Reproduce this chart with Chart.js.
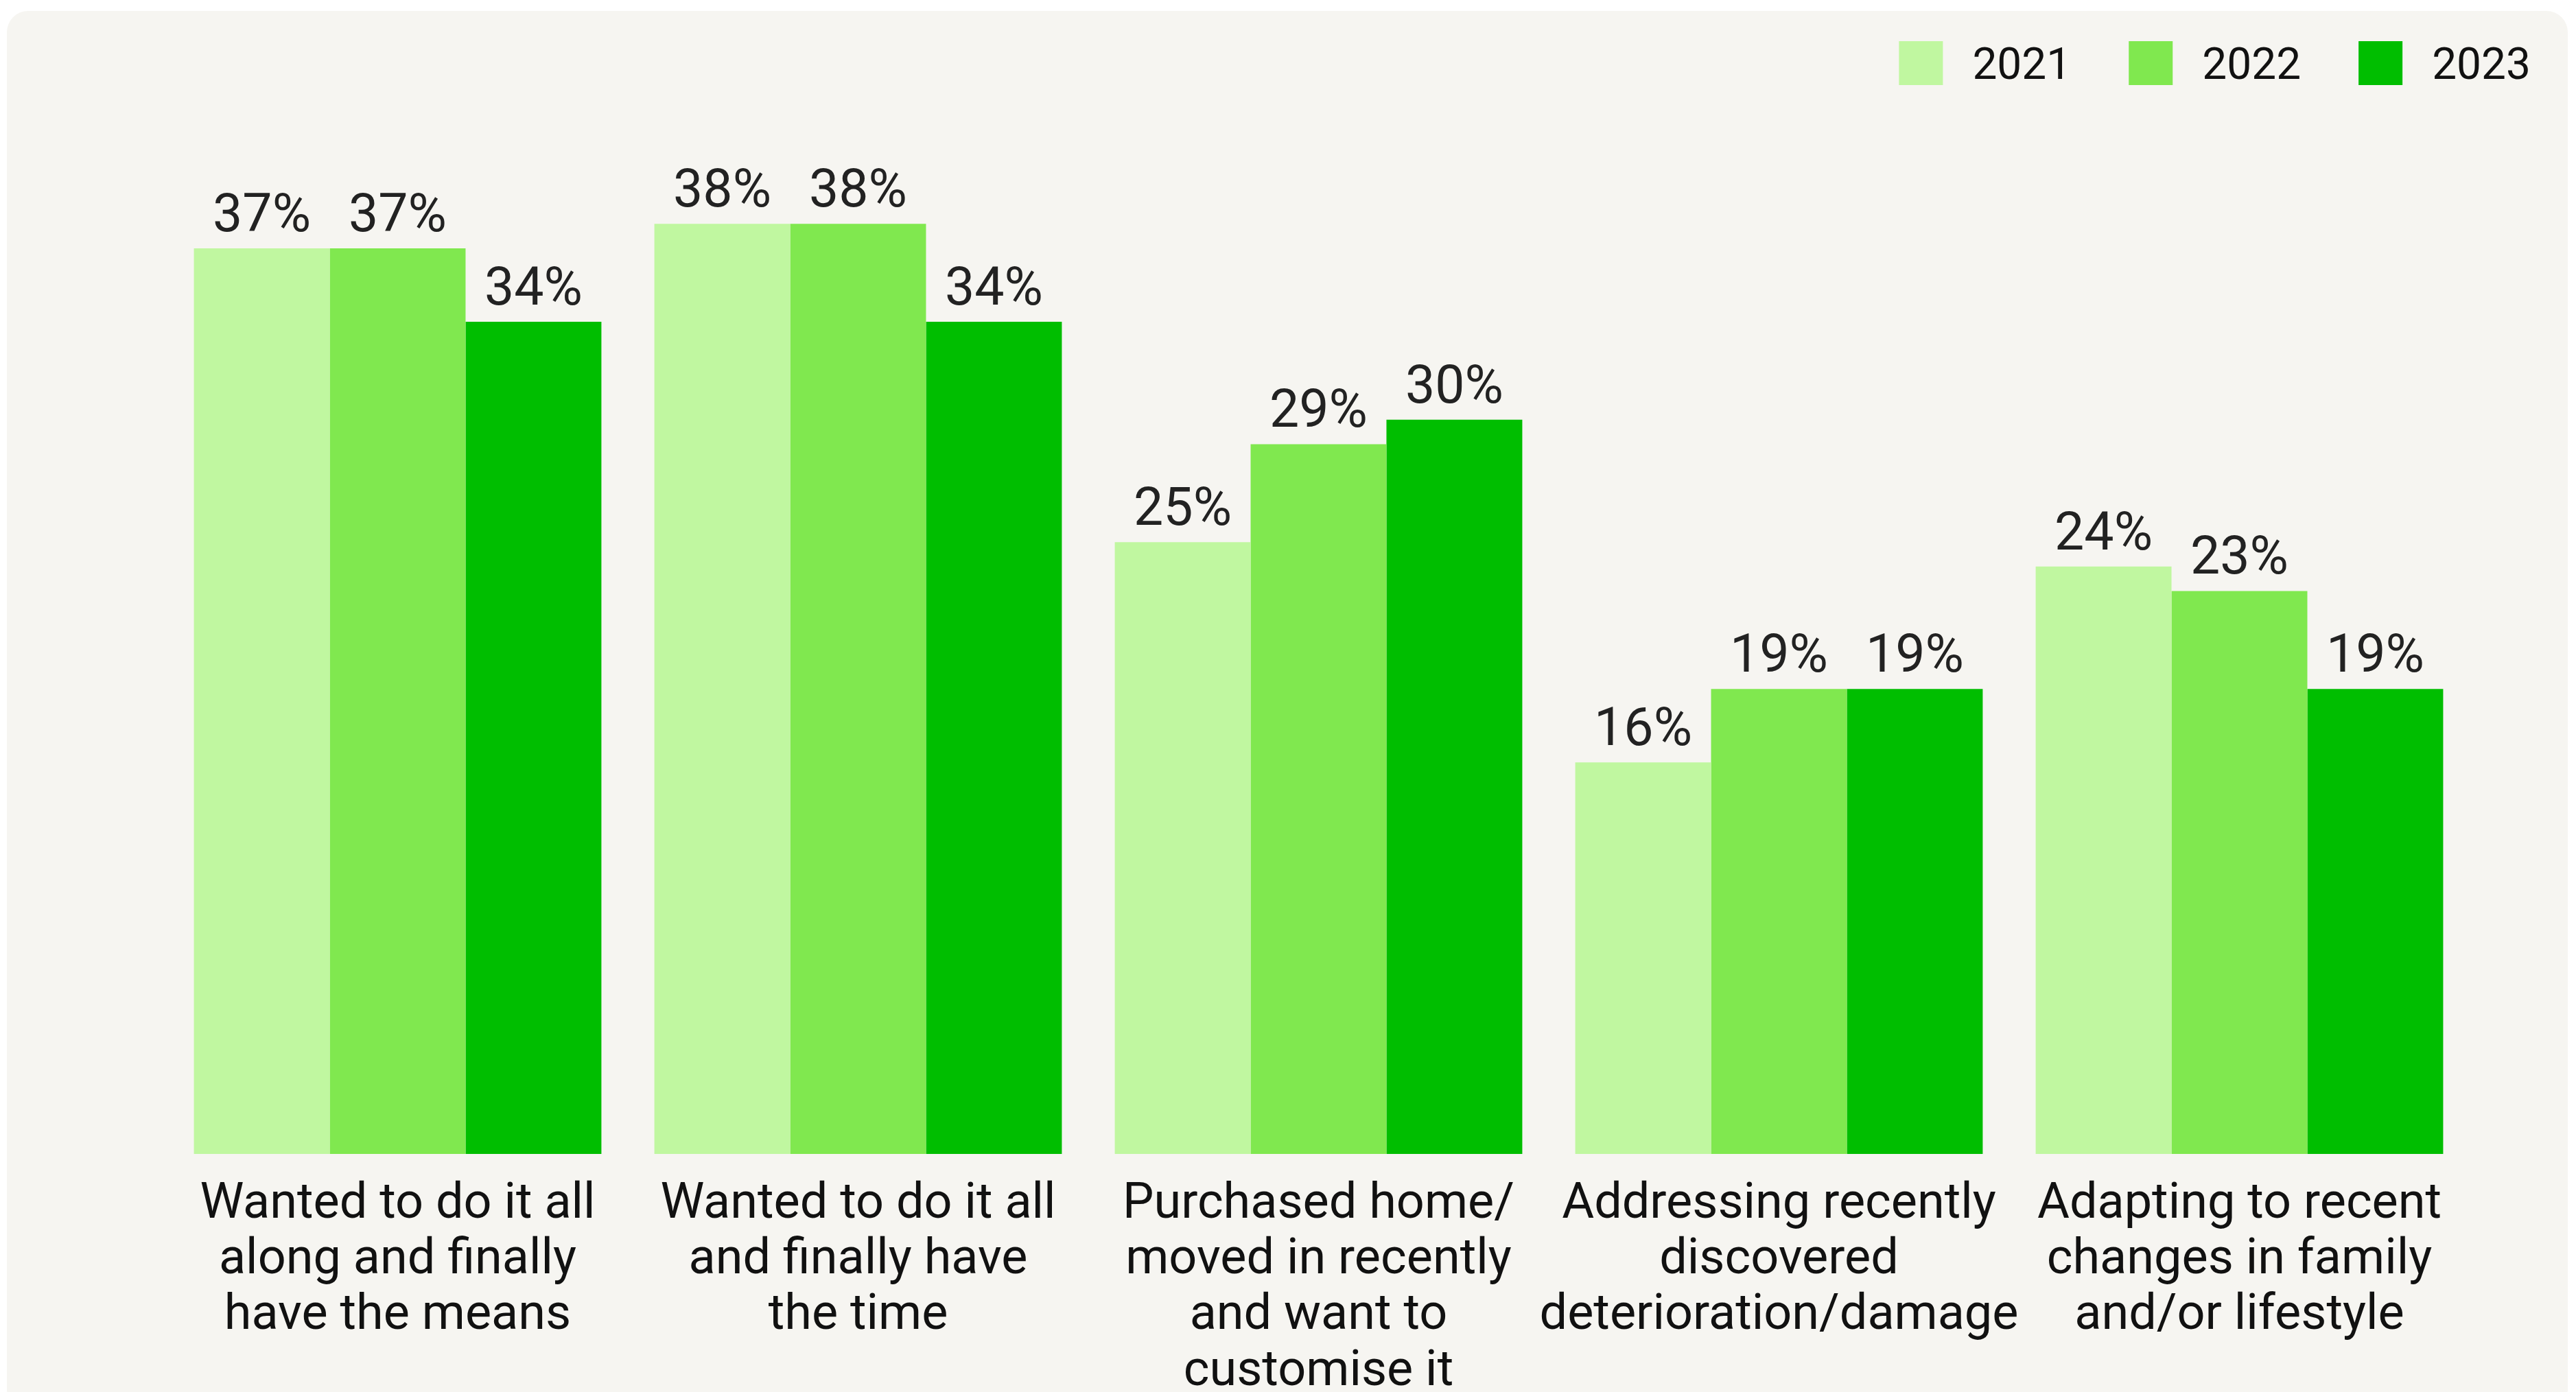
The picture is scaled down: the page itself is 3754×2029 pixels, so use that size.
<!DOCTYPE html>
<html>
<head>
<meta charset="utf-8">
<script src="https://cdn.jsdelivr.net/npm/chart.js@4.4.1/dist/chart.umd.min.js"></script>
<style>
  html, body { margin: 0; padding: 0; background: #ffffff; }
  #wrap { width: 3754px; height: 2029px; position: relative; }
</style>
</head>
<body>
<div id="wrap"><canvas id="reasonsChart" width="3754" height="2029"></canvas></div>
<script>
// Données
const categories = [
    ['Wanted to do it all', 'along and finally', 'have the means'],
    ['Wanted to do it all', 'and finally have', 'the time'],
    ['Purchased home/', 'moved in recently', 'and want to', 'customise it'],
    ['Addressing recently', 'discovered', 'deterioration/damage'],
    ['Adapting to recent', 'changes in family', 'and/or lifestyle']
];
const years = ['2021', '2022', '2023'];
const values2021 = [37, 38, 25, 16, 24];
const values2022 = [37, 38, 29, 19, 23];
const values2023 = [34, 34, 30, 19, 19];
const yearColors = ['#c0f7a0', '#80e84f', '#00be00'];

const FONT = 'Roboto, "Noto Sans", sans-serif';

/**
 * Fond arrondi du panneau
 */
const panelBackground = {
    id: 'panelBackground',
    beforeDraw(chart) {
        const ctx = chart.ctx;
        ctx.save();
        ctx.fillStyle = '#f6f5f1';
        ctx.beginPath();
        ctx.roundRect(10, 16, 3732, 2040, 31);
        ctx.fill();
        ctx.restore();
    }
};

/**
 * Pourcentages au-dessus des barres
 */
const valueLabels = {
    id: 'valueLabels',
    afterDatasetsDraw(chart) {
        const ctx = chart.ctx;
        ctx.save();
        ctx.font = '400 77px ' + FONT;
        ctx.fillStyle = '#222222';
        ctx.textAlign = 'center';
        ctx.textBaseline = 'alphabetic';
        chart.data.datasets.forEach((ds, i) => {
            chart.getDatasetMeta(i).data.forEach((bar, j) => {
                ctx.fillText(ds.data[j] + '%', bar.x, bar.y - 25);
            });
        });
        ctx.restore();
    }
};

/**
 * Légende en haut à droite
 */
const yearLegend = {
    id: 'yearLegend',
    afterDraw(chart) {
        const ctx = chart.ctx;
        ctx.save();
        ctx.font = '400 64px ' + FONT;
        ctx.textBaseline = 'middle';
        ctx.textAlign = 'left';
        const box = 64, gapText = 43, gapItem = 84;
        const widths = chart.data.datasets.map(ds => ctx.measureText(ds.label).width);
        const total = widths.reduce((a, w) => a + box + gapText + w, 0) + gapItem * (widths.length - 1);
        let x = 3688 - total;
        const cy = 92;
        chart.data.datasets.forEach((ds, i) => {
            ctx.fillStyle = ds.backgroundColor;
            ctx.fillRect(x, cy - box / 2, box, box);
            x += box + gapText;
            ctx.fillStyle = '#111111';
            ctx.fillText(ds.label, x, cy + 7);
            x += widths[i] + gapItem;
        });
        ctx.restore();
    }
};

const seriesValues = [values2021, values2022, values2023];

new Chart(document.getElementById('reasonsChart'), {
    type: 'bar',
    data: {
        labels: categories,
        datasets: years.map((y, i) => ({
            label: y,
            data: seriesValues[i],
            backgroundColor: yearColors[i],
            borderWidth: 0,
            categoryPercentage: 0.885,
            barPercentage: 1.0
        }))
    },
    options: {
        responsive: false,
        animation: false,
        devicePixelRatio: 1,
        layout: {
            padding: { top: 255, left: 244, right: 155, bottom: 0 }
        },
        plugins: {
            legend: { display: false },
            tooltip: { enabled: false }
        },
        scales: {
            y: {
                display: false,
                min: 0,
                max: 40
            },
            x: {
                border: { display: false },
                grid: { display: false, drawTicks: false },
                afterFit(axis) {
                    axis.height = 2029 - 1682;
                },
                ticks: {
                    color: '#111111',
                    padding: 34,
                    autoSkip: false,
                    maxRotation: 0,
                    minRotation: 0,
                    font: { family: FONT, size: 72, lineHeight: 1.13 }
                }
            }
        }
    },
    plugins: [panelBackground, valueLabels, yearLegend]
});
</script>
</body>
</html>
